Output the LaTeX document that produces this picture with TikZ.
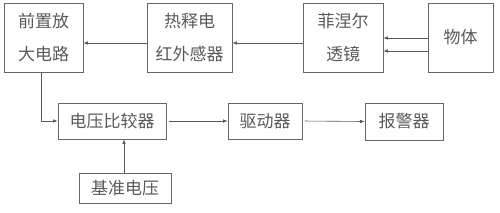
\documentclass[tikz,border=0pt]{standalone}
\usepackage{fontspec}
\newfontfamily\cjk{Noto Sans CJK SC}
\usetikzlibrary{arrows.meta}
\colorlet{boxcol}{black!60}
\colorlet{txtcol}{black!65}
\colorlet{arrcol}{black!65}

\begin{document}
\begin{tikzpicture}[x=1pt, y=-1pt,
    blk/.style={draw=boxcol, line width=0.6pt, inner sep=0pt, align=center,
      text=txtcol, font=\cjk\fontsize{17}{33}\selectfont},
    arr/.style={line width=0.6pt, arrcol, -{Latex[length=4.5pt, width=3.5pt]}}]
  \useasboundingbox (0,0) rectangle (500,212);

  % upper row
  \node[blk, minimum width=79pt, minimum height=69pt] (pre) at (43.5,37.5) {前置放\\大电路};
  \node[blk, minimum width=85pt, minimum height=69pt] (sensor) at (189.5,37.5) {热释电\\红外感器};
  \node[blk, minimum width=80pt, minimum height=69pt] (lens) at (343,37.5) {菲涅尔\\透镜};
  \node[blk, minimum width=65pt, minimum height=69pt] (obj) at (460.5,37.5) {物体};

  % lower row
  \node[blk, minimum width=108pt, minimum height=36pt] (cmp) at (112,121) {电压比较器};
  \node[blk, minimum width=74pt, minimum height=36pt] (drv) at (265,121) {驱动器};
  \node[blk, minimum width=78pt, minimum height=37pt] (alarm) at (404,121.5) {报警器};
  \node[blk, minimum width=92pt, minimum height=30pt] (ref) at (125,188) {基准电压};

  \draw[arr] ([yshift=-0.5pt]obj.west) -- ([yshift=-0.5pt]lens.east);
  \draw[arr] ([yshift=-13.5pt]obj.west) -- ([yshift=-13.5pt]lens.east);
  \draw[arr] ([yshift=-5.5pt]lens.west) -- ([yshift=-5.5pt]sensor.east);
  \draw[arr] ([yshift=-5.5pt]sensor.west) -- ([yshift=-5.5pt]pre.east);

  \draw[arr] ([xshift=-2.5pt]pre.south) |- (cmp.west);
  \draw[arr, shorten <=2.5pt] (cmp.east) -- (drv.west);
  \draw[arr, shorten <=2.5pt] (drv.east) -- (alarm.west);
  \draw[arr] ([xshift=-1pt]ref.north) -- ([xshift=-1pt]ref.north |- cmp.south);
\end{tikzpicture}
\end{document}
